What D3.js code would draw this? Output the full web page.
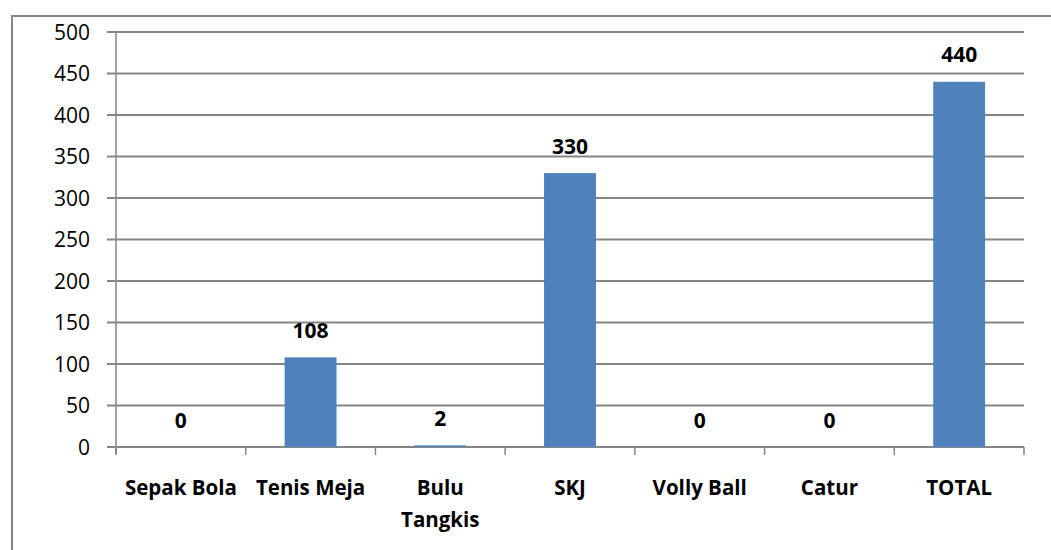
<!DOCTYPE html>
<html>
<head>
<meta charset="utf-8">
<script src="https://cdn.jsdelivr.net/npm/d3@7"></script>
<style>
  body { margin: 0; background: #fff; }
  svg text { font-family: "Open Sans", "Noto Sans", sans-serif; }
</style>
</head>
<body>
<div id="chart"></div>
<script>
var categories = ["Sepak Bola", "Tenis Meja", "Bulu Tangkis", "SKJ", "Volly Ball", "Catur", "TOTAL"];
var values = [0, 108, 2, 330, 0, 0, 440];
var yTicks = [0, 50, 100, 150, 200, 250, 300, 350, 400, 450, 500];

var width = 1051, height = 550;
var margin = { left: 116, right: 27, top: 32, bottom: 103 };

var svg = d3.select("#chart").append("svg")
  .attr("width", width)
  .attr("height", height);

// outer chart border
svg.append("rect")
  .attr("x", 12).attr("y", 16)
  .attr("width", 1060).attr("height", 560)
  .attr("fill", "none")
  .attr("stroke", "#868686")
  .attr("stroke-width", 2);

var x = d3.scaleBand()
  .domain(categories)
  .range([margin.left, width - margin.right])
  .padding(0);

var y = d3.scaleLinear()
  .domain([0, 500])
  .range([height - margin.bottom, margin.top]);

// gridlines
svg.append("g").selectAll("line")
  .data(yTicks)
  .enter().append("line")
  .attr("x1", margin.left - 9)
  .attr("x2", width - margin.right)
  .attr("y1", function(d) { return y(d); })
  .attr("y2", function(d) { return y(d); })
  .attr("stroke", "#868686")
  .attr("stroke-width", 2);

// y axis line
svg.append("line")
  .attr("x1", margin.left).attr("x2", margin.left)
  .attr("y1", margin.top).attr("y2", y(0) + 7)
  .attr("stroke", "#868686")
  .attr("stroke-width", 1.5);

// y tick labels
svg.append("g").selectAll("text")
  .data(yTicks)
  .enter().append("text")
  .attr("x", 90)
  .attr("y", function(d) { return y(d); })
  .attr("dy", "0.36em")
  .attr("text-anchor", "end")
  .attr("font-size", 21)
  .attr("fill", "#000")
  .text(function(d) { return d; });

// category ticks
var tickPos = categories.map(function(c) { return x(c); }).concat([width - margin.right]);
svg.append("g").selectAll("line")
  .data(tickPos)
  .enter().append("line")
  .attr("x1", function(d) { return d; })
  .attr("x2", function(d) { return d; })
  .attr("y1", y(0))
  .attr("y2", y(0) + 8)
  .attr("stroke", "#868686")
  .attr("stroke-width", 1.5);

// bars
var barW = x.bandwidth() * 0.4;
svg.append("g").selectAll("rect")
  .data(values)
  .enter().append("rect")
  .attr("x", function(d, i) { return x(categories[i]) + (x.bandwidth() - barW) / 2; })
  .attr("y", function(d) { return y(d); })
  .attr("width", barW)
  .attr("height", function(d) { return y(0) - y(d); })
  .attr("fill", "#4F81BD");

// value labels
svg.append("g").selectAll("text")
  .data(values)
  .enter().append("text")
  .attr("x", function(d, i) { return x(categories[i]) + x.bandwidth() / 2; })
  .attr("y", function(d) { return y(d) - 27; })
  .attr("dy", "0.36em")
  .attr("text-anchor", "middle")
  .attr("font-size", 21)
  .attr("font-weight", "bold")
  .attr("fill", "#000")
  .text(function(d) { return d; });

// category labels (wrap "Bulu Tangkis")
var catLines = { "Bulu Tangkis": ["Bulu", "Tangkis"] };
svg.append("g").selectAll("text")
  .data(categories)
  .enter().append("text")
  .attr("x", function(d) { return x(d) + x.bandwidth() / 2; })
  .attr("y", 488)
  .attr("text-anchor", "middle")
  .attr("font-size", 20.5)
  .attr("font-weight", "bold")
  .attr("fill", "#000")
  .each(function(d) {
    var lines = catLines[d] || [d];
    var t = d3.select(this);
    lines.forEach(function(l, k) {
      t.append("tspan")
        .attr("x", x(d) + x.bandwidth() / 2)
        .attr("dy", k === 0 ? "0.36em" : 32)
        .text(l);
    });
  });
</script>
</body>
</html>
